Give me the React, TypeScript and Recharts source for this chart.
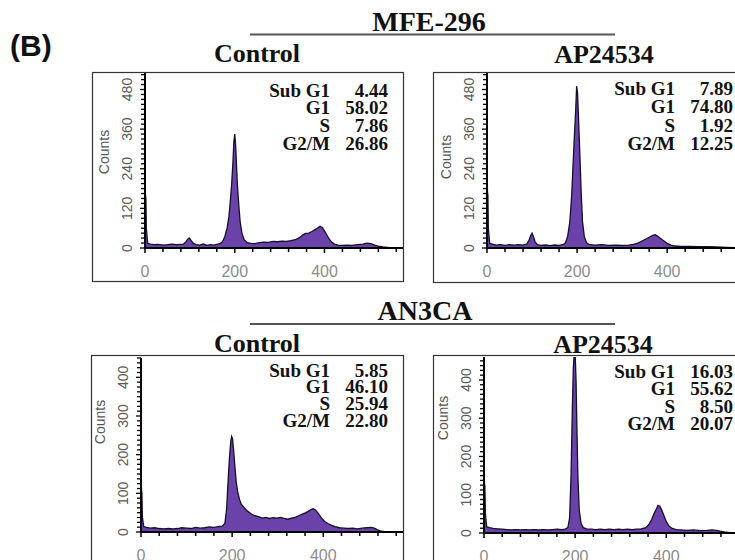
import { AreaChart, Area, XAxis, YAxis } from 'recharts';

// [channel, counts]
const mfeControl: [number, number][] = [
  [0, 310], [1, 160], [2, 150], [3, 60], [6, 14], [12, 12], [20, 10], [30, 11], [40, 9], [50, 10], [60, 12],
  [70, 10], [78, 11], [86, 12], [92, 20], [96, 28], [99, 30], [103, 22], [108, 14], [114, 10], [122, 9],
  [130, 12], [138, 8], [146, 10], [154, 9], [162, 12], [168, 14], [173, 20], [178, 35], [183, 60], [187, 95],
  [190, 140], [193, 190], [196, 260], [198, 320], [200, 345], [202, 310], [204, 250], [206, 190], [209, 130], [212, 80],
  [216, 45], [221, 25], [228, 16], [236, 14], [245, 13], [255, 16], [265, 18], [275, 17], [285, 20], [295, 19],
  [305, 21], [315, 20], [325, 22], [335, 25], [345, 32], [352, 40], [358, 44], [365, 45], [372, 50], [378, 55],
  [384, 60], [390, 66], [395, 62], [400, 52], [405, 40], [410, 28], [416, 18], [422, 12], [430, 9], [440, 8],
  [450, 9], [462, 8], [474, 10], [486, 12], [494, 15], [500, 14], [506, 12], [512, 9], [520, 6], [530, 3],
  [545, 1], [575, 0],
];

const mfeDrug: [number, number][] = [
  [0, 330], [1, 170], [2, 160], [3, 60], [6, 14], [12, 12], [20, 9], [30, 10], [40, 8], [50, 10], [60, 9],
  [70, 10], [80, 9], [88, 12], [93, 22], [97, 38], [100, 45], [103, 35], [107, 18], [112, 10], [120, 8],
  [130, 9], [140, 7], [150, 9], [160, 8], [168, 10], [174, 15], [179, 35], [184, 80], [188, 160], [191, 250],
  [194, 340], [197, 420], [199, 490], [201, 470], [203, 400], [206, 290], [209, 170], [212, 80], [216, 35], [221, 16],
  [228, 10], [240, 9], [255, 10], [270, 8], [285, 9], [300, 8], [315, 9], [325, 11], [335, 15], [345, 22],
  [354, 28], [362, 34], [368, 38], [373, 40], [378, 37], [384, 30], [392, 22], [400, 14], [408, 9], [418, 6],
  [430, 5], [450, 5], [470, 4], [490, 4], [510, 3], [530, 2], [550, 1], [575, 0],
];

const an3Control: [number, number][] = [
  [0, 195], [1, 110], [2, 100], [3, 40], [6, 14], [12, 12], [20, 10], [30, 11], [40, 9], [50, 8], [60, 9],
  [70, 8], [80, 9], [90, 11], [100, 10], [110, 9], [120, 12], [130, 10], [140, 11], [150, 13], [160, 12],
  [170, 14], [178, 15], [184, 22], [188, 60], [191, 130], [194, 190], [197, 235], [199, 247], [201, 240], [203, 215],
  [206, 170], [209, 130], [212, 105], [216, 85], [220, 72], [225, 65], [230, 58], [236, 52], [243, 46], [250, 42],
  [258, 40], [266, 36], [274, 38], [282, 35], [290, 37], [298, 36], [306, 38], [314, 35], [322, 33], [330, 36],
  [338, 38], [346, 42], [354, 46], [362, 50], [368, 54], [373, 58], [378, 60], [383, 57], [389, 48], [395, 38],
  [402, 28], [410, 22], [418, 17], [426, 14], [435, 11], [445, 10], [455, 9], [465, 10], [475, 8], [485, 10],
  [495, 11], [505, 12], [512, 10], [518, 6], [525, 3], [535, 1], [575, 0],
];

const an3Drug: [number, number][] = [
  [0, 225], [1, 130], [2, 120], [3, 50], [6, 16], [12, 14], [20, 12], [30, 11], [40, 10], [50, 9], [60, 8],
  [70, 9], [80, 8], [90, 9], [100, 8], [110, 9], [120, 8], [130, 9], [140, 8], [150, 9], [160, 10],
  [170, 9], [178, 10], [184, 14], [188, 40], [191, 150], [194, 330], [196, 430], [198, 470], [200, 470], [202, 400],
  [204, 270], [206, 150], [209, 60], [213, 25], [218, 14], [225, 11], [235, 10], [245, 9], [255, 10], [265, 9],
  [275, 10], [285, 9], [295, 10], [305, 9], [315, 10], [325, 9], [335, 10], [345, 11], [355, 14], [362, 22],
  [368, 35], [373, 50], [378, 62], [382, 72], [386, 70], [390, 60], [395, 45], [400, 30], [406, 18], [413, 12],
  [422, 9], [432, 8], [445, 7], [460, 8], [475, 6], [490, 7], [500, 8], [510, 7], [518, 5], [527, 3],
  [540, 1], [575, 0],
];

const phaseNames = ['Sub G1', 'G1', 'S', 'G2/M'];
const mfeControlPct = [4.44, 58.02, 7.86, 26.86];
const mfeDrugPct = [7.89, 74.8, 1.92, 12.25];
const an3ControlPct = [5.85, 46.1, 25.94, 22.8];
const an3DrugPct = [16.03, 55.62, 8.5, 20.07];

const xLabels = [0, 200, 400];
const mfeYLabels = [0, 120, 240, 360, 480];
const an3YLabels = [0, 100, 200, 300, 400];

const X_MAX = 575;
const FILL = '#6a42aa';
const LINE = '#15102a';
const SERIF = "'Liberation Serif', 'Times New Roman', serif";
const SANS = "'Liberation Sans', Arial, sans-serif";

function steps(max: number, step: number) {
  const out: number[] = [];
  for (let v = 0; v <= max + 1e-6; v += step) out.push(Math.round(v * 10) / 10);
  return out;
}

const panels = [
  {
    data: mfeControl, pct: mfeControlPct, yLabels: mfeYLabels, yMax: 530, yMinor: 15,
    box: { l: 92, t: 72, r: 403, b: 281 }, axisX: 145, axisTop: 73, axisBottom: 248,
    labelRight: 330, valueRight: 388, rows: [97, 114, 132, 150], countsY: 152,
  },
  {
    data: mfeDrug, pct: mfeDrugPct, yLabels: mfeYLabels, yMax: 530, yMinor: 15,
    box: { l: 433, t: 72, r: 746, b: 282 }, axisX: 487, axisTop: 73, axisBottom: 248,
    labelRight: 675, valueRight: 733, rows: [95, 113, 132, 150], countsY: 157,
  },
  {
    data: an3Control, pct: an3ControlPct, yLabels: an3YLabels, yMax: 450, yMinor: 12.5,
    box: { l: 91, t: 355, r: 403, b: 580 }, axisX: 141, axisTop: 358, axisBottom: 532,
    labelRight: 330, valueRight: 388, rows: [377, 393, 410, 427], countsY: 422,
  },
  {
    data: an3Drug, pct: an3DrugPct, yLabels: an3YLabels, yMax: 460, yMinor: 12.5,
    box: { l: 433, t: 355, r: 746, b: 580 }, axisX: 484, axisTop: 357, axisBottom: 533,
    labelRight: 675, valueRight: 733, rows: [378, 395, 413, 430], countsY: 418,
  },
];

function Histogram({ p }: { p: (typeof panels)[number] }) {
  const { box } = p;
  const w = box.r - box.l;
  const h = box.b - box.t;
  const axisXc = p.axisX - box.l;
  const axisYc = p.axisBottom - box.t;
  const rows = p.data.map(([ch, c]) => ({ ch, c }));

  const xTick = (props: any) => {
    const { x, payload } = props;
    const major = xLabels.includes(payload.value);
    return (
      <g>
        <line x1={x} x2={x} y1={axisYc} y2={axisYc + (major ? 5 : 4)} stroke="#000" strokeWidth={1.5} />
        {major && (
          <text x={x} y={axisYc + 29} textAnchor="middle" fontSize={16} fill="#8c8c8c" fontFamily={SANS}>
            {payload.value}
          </text>
        )}
      </g>
    );
  };

  const yTick = (props: any) => {
    const { y, payload } = props;
    const major = p.yLabels.includes(payload.value);
    const lx = axisXc - 18;
    return (
      <g>
        <line x1={axisXc - (major ? 5 : 4)} x2={axisXc} y1={y} y2={y} stroke="#000" strokeWidth={1.3} />
        {major && (
          <text
            x={lx}
            y={y}
            transform={`rotate(-90 ${lx} ${y})`}
            textAnchor="middle"
            dominantBaseline="central"
            fontSize={14}
            fill="#5a5a5a"
            fontFamily={SANS}
          >
            {payload.value}
          </text>
        )}
      </g>
    );
  };

  return (
    <div style={{ position: 'absolute', left: box.l, top: box.t }}>
      <AreaChart width={w} height={h} data={rows} margin={{ top: p.axisTop - box.t, right: 0, bottom: 0, left: 0 }}>
        <XAxis
          type="number"
          dataKey="ch"
          domain={[0, X_MAX]}
          ticks={steps(X_MAX, 40)}
          interval={0}
          allowDataOverflow
          height={h - axisYc}
          tickLine={false}
          axisLine={{ stroke: '#000', strokeWidth: 2 }}
          tick={xTick}
        />
        <YAxis
          type="number"
          domain={[0, p.yMax]}
          ticks={steps(p.yMax, p.yMinor)}
          interval={0}
          allowDataOverflow
          width={axisXc}
          tickLine={false}
          axisLine={{ stroke: '#000', strokeWidth: 2 }}
          tick={yTick}
        />
        <Area
          type="linear"
          dataKey="c"
          stroke={LINE}
          strokeWidth={1.3}
          fill={FILL}
          fillOpacity={1}
          dot={false}
          activeDot={false}
          isAnimationActive={false}
        />
      </AreaChart>
    </div>
  );
}

export default function App() {
  return (
    <div
      style={{
        position: 'absolute',
        left: 0,
        top: 0,
        width: 735,
        height: 560,
        overflow: 'hidden',
        background: '#fff',
      }}
    >
      {panels.map((p, i) => (
        <Histogram key={i} p={p} />
      ))}
      <svg width={735} height={560} style={{ position: 'absolute', left: 0, top: 0, pointerEvents: 'none' }}>
        <text x={10} y={56} fontSize={30} fontWeight={700} fontFamily={SANS} fill="#111">
          (B)
        </text>
        <g fontFamily={SERIF} fontWeight={700} fill="#111" textAnchor="middle">
          <text x={429} y={31} fontSize={28}>MFE-296</text>
          <text x={257} y={62} fontSize={26}>Control</text>
          <text x={604} y={63} fontSize={26}>AP24534</text>
          <text x={425} y={320} fontSize={28}>AN3CA</text>
          <text x={257} y={352} fontSize={26}>Control</text>
          <text x={603} y={353} fontSize={26}>AP24534</text>
        </g>
        <line x1={250} x2={615} y1={34.5} y2={34.5} stroke="#555" strokeWidth={2} />
        <line x1={250} x2={615} y1={324} y2={324} stroke="#555" strokeWidth={2} />
        {panels.map((p, i) => (
          <g key={i}>
            <rect
              x={p.box.l + 0.5}
              y={p.box.t + 0.5}
              width={p.box.r - p.box.l}
              height={p.box.b - p.box.t}
              fill="none"
              stroke="#333"
              strokeWidth={1.2}
            />
            <text
              x={p.axisX - 41}
              y={p.countsY}
              transform={`rotate(-90 ${p.axisX - 41} ${p.countsY})`}
              textAnchor="middle"
              dominantBaseline="central"
              fontSize={14}
              fill="#555"
              fontFamily={SANS}
            >
              Counts
            </text>
            <g fontFamily={SERIF} fontWeight={700} fontSize={19} fill="#111" textAnchor="end">
              {phaseNames.map((name, j) => (
                <g key={name}>
                  <text x={p.labelRight} y={p.rows[j]}>{name}</text>
                  <text x={p.valueRight} y={p.rows[j]}>{p.pct[j].toFixed(2)}</text>
                </g>
              ))}
            </g>
          </g>
        ))}
      </svg>
    </div>
  );
}
